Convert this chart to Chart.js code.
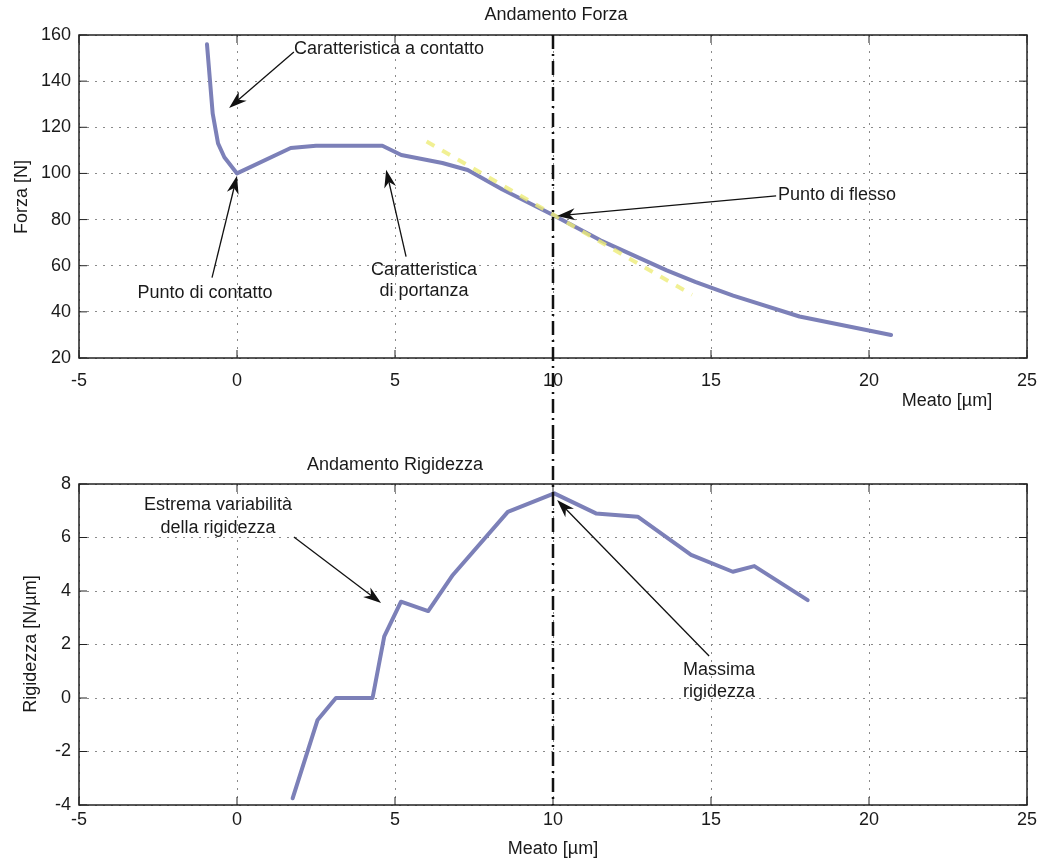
<!DOCTYPE html>
<html>
<head>
<meta charset="utf-8">
<script src="https://cdn.jsdelivr.net/npm/chart.js@4.4.1/dist/chart.umd.min.js"></script>
<style>
  body { margin: 0; background: #fff; }
  #wrap { position: relative; width: 1045px; height: 861px; }
  canvas { position: absolute; left: 0; }
</style>
</head>
<body>
<div id="wrap">
  <canvas id="forza" width="1045" height="440" style="top:0"></canvas>
  <canvas id="rigidezza" width="1045" height="421" style="top:440px"></canvas>
</div>
<script>
// Meato [µm] ticks shared by both plots
const meatoTicks = [-5, 0, 5, 10, 15, 20, 25];
const forzaTicks = [20, 40, 60, 80, 100, 120, 140, 160];
const rigTicks = [-4, -2, 0, 2, 4, 6, 8];

// Andamento Forza
const forzaX = [-0.95, -0.77, -0.6, -0.4, 0, 1.7, 2.5, 4.6, 5.2, 6.5, 7.3, 8.4, 10, 11.5, 13.6, 14.5, 15.7, 17.8, 20.7];
const forzaY = [156, 126, 113, 107, 100, 111, 112, 112, 108, 104.5, 101.5, 93, 82, 71, 58, 53, 47, 38, 30];

// tangent in the inflection point (yellow dashed)
const tangX = [6, 14.4];
const tangY = [113.8, 47.4];

// Andamento Rigidezza
const rigX = [1.76, 2.55, 3.13, 4.29, 4.66, 5.19, 6.05, 6.83, 8.57, 10.04, 11.36, 12.68, 14.37, 15.69, 16.37, 18.06];
const rigY = [-3.75, -0.82, 0, 0, 2.3, 3.6, 3.25, 4.6, 6.96, 7.65, 6.9, 6.78, 5.35, 4.72, 4.93, 3.66];

const inflX = 10;

const FONT = "'Liberation Sans', Arial, sans-serif";
const TEXT = '#1a1a1a';

function pts(xs, ys) {
  return xs.map((x, i) => ({ x: x, y: ys[i] }));
}

function arrow(ctx, x1, y1, x2, y2) {
  const a = Math.atan2(y2 - y1, x2 - x1);
  const len = 18, w = 6;
  ctx.save();
  ctx.strokeStyle = '#111';
  ctx.fillStyle = '#111';
  ctx.lineWidth = 1.3;
  ctx.beginPath();
  ctx.moveTo(x1, y1);
  ctx.lineTo(x2 - Math.cos(a) * len * 0.6, y2 - Math.sin(a) * len * 0.6);
  ctx.stroke();
  ctx.beginPath();
  ctx.moveTo(x2, y2);
  ctx.lineTo(x2 - Math.cos(a) * len + Math.sin(a) * w, y2 - Math.sin(a) * len - Math.cos(a) * w);
  ctx.lineTo(x2 - Math.cos(a) * len * 0.7, y2 - Math.sin(a) * len * 0.7);
  ctx.lineTo(x2 - Math.cos(a) * len - Math.sin(a) * w, y2 - Math.sin(a) * len + Math.cos(a) * w);
  ctx.closePath();
  ctx.fill();
  ctx.restore();
}

// frame, inward ticks, titles, annotations and the dash-dot line at the inflection point
function makeDecor(cfg) {
  return {
    id: 'decor',
    afterDraw(chart) {
      const ctx = chart.ctx;
      const a = chart.chartArea;
      const xs = chart.scales.x, ys = chart.scales.y;
      ctx.save();

      // frame
      ctx.strokeStyle = '#222';
      ctx.lineWidth = 1.5;
      ctx.strokeRect(a.left, a.top, a.right - a.left, a.bottom - a.top);

      // inward ticks
      ctx.lineWidth = 1;
      ctx.beginPath();
      meatoTicks.forEach(v => {
        const px = xs.getPixelForValue(v);
        ctx.moveTo(px, a.bottom); ctx.lineTo(px, a.bottom - 8);
        ctx.moveTo(px, a.top); ctx.lineTo(px, a.top + 8);
      });
      cfg.yTicks.forEach(v => {
        const py = ys.getPixelForValue(v);
        ctx.moveTo(a.left, py); ctx.lineTo(a.left + 8, py);
        ctx.moveTo(a.right, py); ctx.lineTo(a.right - 8, py);
      });
      ctx.stroke();

      // dash-dot line at the inflection point
      const vx = xs.getPixelForValue(inflX);
      ctx.strokeStyle = '#111';
      ctx.lineWidth = 2.5;
      ctx.setLineDash([14, 5, 2, 5]);
      ctx.beginPath();
      ctx.moveTo(vx, cfg.vFrom === 'top' ? a.top : 0);
      ctx.lineTo(vx, cfg.vFrom === 'top' ? chart.height : a.bottom);
      ctx.stroke();
      ctx.setLineDash([]);

      // texts
      ctx.fillStyle = TEXT;
      ctx.font = '18px ' + FONT;
      ctx.textBaseline = 'middle';
      ctx.textAlign = 'center';
      ctx.fillText(cfg.title, cfg.titleX, cfg.titleY);
      ctx.fillText(cfg.xTitle, cfg.xTitleX, cfg.xTitleY);
      ctx.save();
      ctx.translate(cfg.yTitleX, cfg.yTitleY);
      ctx.rotate(-Math.PI / 2);
      ctx.fillText(cfg.yTitle, 0, 0);
      ctx.restore();

      cfg.notes.forEach(n => {
        ctx.textAlign = n.align;
        n.lines.forEach((t, i) => {
          ctx.fillText(t, xs.getPixelForValue(n.x), ys.getPixelForValue(n.ys[i]));
        });
        arrow(ctx,
          xs.getPixelForValue(n.from[0]), ys.getPixelForValue(n.from[1]),
          xs.getPixelForValue(n.to[0]), ys.getPixelForValue(n.to[1]));
      });
      ctx.restore();
    }
  };
}

function scalesFor(yMin, yMax, yStep, xHeight, xPad) {
  return {
    x: {
      type: 'linear', min: -5, max: 25,
      afterFit: s => { s.height = xHeight; s.paddingLeft = 0; s.paddingRight = 0; },
      ticks: { stepSize: 5, color: TEXT, font: { family: FONT, size: 18 }, padding: xPad },
      grid: { color: '#8a8a8a', lineWidth: 1, drawTicks: false },
      border: { display: false, dash: [2, 6] }
    },
    y: {
      min: yMin, max: yMax,
      afterFit: s => { s.width = 79; },
      ticks: { stepSize: yStep, color: TEXT, font: { family: FONT, size: 18 }, padding: 8 },
      grid: { color: '#8a8a8a', lineWidth: 1, drawTicks: false },
      border: { display: false, dash: [2, 6] }
    }
  };
}

const lineStyle = {
  showLine: true, pointRadius: 0, borderColor: '#7c80b8', borderWidth: 4,
  borderJoinStyle: 'round', borderCapStyle: 'round', tension: 0
};

new Chart(document.getElementById('forza'), {
  type: 'scatter',
  data: {
    datasets: [
      Object.assign({ data: pts(forzaX, forzaY), order: 2 }, lineStyle),
      {
        data: pts(tangX, tangY), showLine: true, pointRadius: 0, order: 1,
        borderColor: 'rgba(238, 236, 120, 0.8)', borderWidth: 4, borderDash: [9, 9]
      }
    ]
  },
  options: {
    responsive: false, animation: false, devicePixelRatio: 1,
    layout: { padding: { top: 35, right: 18, left: 0, bottom: 0 } },
    plugins: { legend: { display: false }, tooltip: { enabled: false } },
    scales: scalesFor(20, 160, 20, 82, 12)
  },
  plugins: [makeDecor({
    yTicks: forzaTicks, vFrom: 'top',
    title: 'Andamento Forza', titleX: 556, titleY: 15,
    xTitle: 'Meato [µm]', xTitleX: 947, xTitleY: 401,
    yTitle: 'Forza [N]', yTitleX: 22, yTitleY: 197,
    notes: [
      { lines: ['Caratteristica a contatto'], align: 'left', x: 1.8, ys: [153.9], from: [1.8, 152.6], to: [-0.25, 128.4] },
      { lines: ['Punto di contatto'], align: 'center', x: -1.01, ys: [48.3], from: [-0.79, 54.8], to: [0, 99] },
      { lines: ['Caratteristica', 'di portanza'], align: 'center', x: 5.92, ys: [58.3, 49.2], from: [5.35, 63.9], to: [4.72, 101.6] },
      { lines: ['Punto di flesso'], align: 'left', x: 17.12, ys: [90.7], from: [17.06, 90.3], to: [10.13, 81.6] }
    ]
  })]
});

new Chart(document.getElementById('rigidezza'), {
  type: 'scatter',
  data: {
    datasets: [Object.assign({ data: pts(rigX, rigY) }, lineStyle)]
  },
  options: {
    responsive: false, animation: false, devicePixelRatio: 1,
    layout: { padding: { top: 44, right: 18, left: 0, bottom: 0 } },
    plugins: { legend: { display: false }, tooltip: { enabled: false } },
    scales: scalesFor(-4, 8, 2, 56, 4)
  },
  plugins: [makeDecor({
    yTicks: rigTicks, vFrom: 'bottom',
    title: 'Andamento Rigidezza', titleX: 395, titleY: 25,
    xTitle: 'Meato [µm]', xTitleX: 553, xTitleY: 409,
    yTitle: 'Rigidezza [N/µm]', yTitleX: 31, yTitleY: 204,
    notes: [
      { lines: ['Estrema variabilità', 'della rigidezza'], align: 'center', x: -0.6, ys: [7.21, 6.36], from: [1.8, 6.02], to: [4.56, 3.55] },
      { lines: ['Massima', 'rigidezza'], align: 'center', x: 15.25, ys: [1.05, 0.22], from: [14.94, 1.57], to: [10.13, 7.4] }
    ]
  })]
});
</script>
</body>
</html>
